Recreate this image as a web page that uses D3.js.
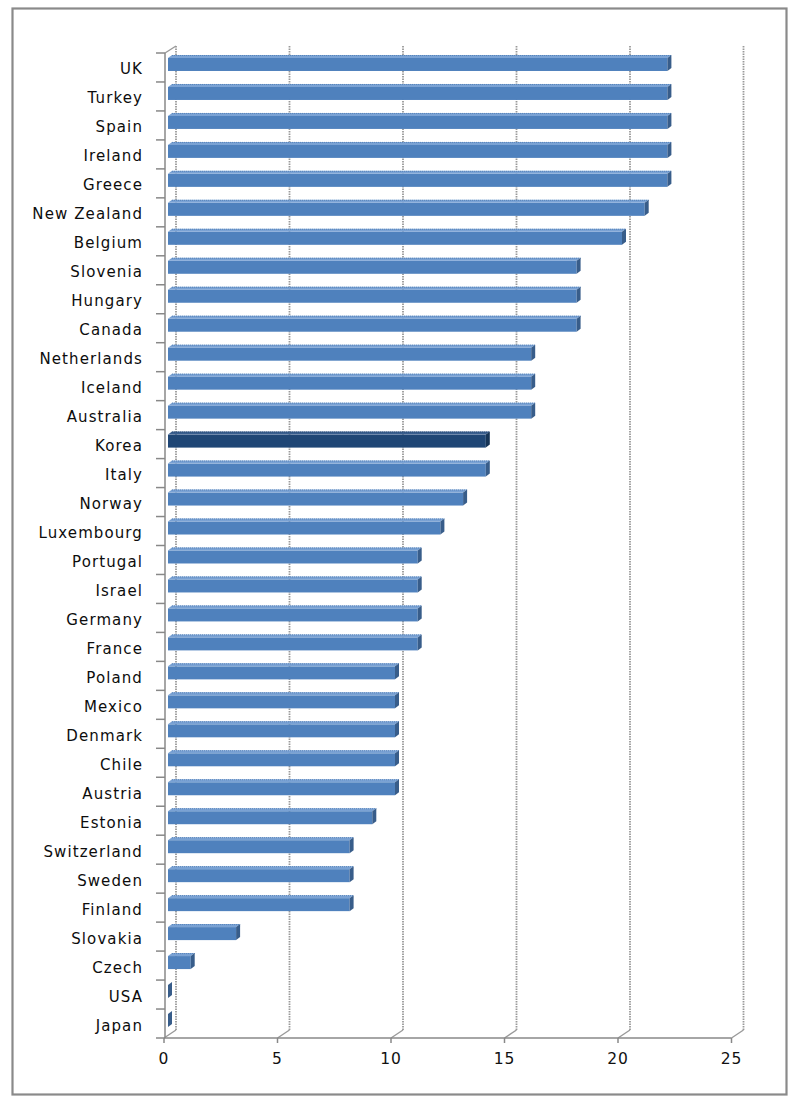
<!DOCTYPE html>
<html><head><meta charset="utf-8">
<script src="https://cdn.jsdelivr.net/npm/d3@7"></script>
<style>body{margin:0;background:#fff;} text{font-family:"DejaVu Sans",Verdana,sans-serif;}</style>
</head><body>
<svg id="c" width="801" height="1106"></svg>
<script>
const categories = ["UK","Turkey","Spain","Ireland","Greece","New Zealand","Belgium","Slovenia","Hungary","Canada","Netherlands","Iceland","Australia","Korea","Italy","Norway","Luxembourg","Portugal","Israel","Germany","France","Poland","Mexico","Denmark","Chile","Austria","Estonia","Switzerland","Sweden","Finland","Slovakia","Czech","USA","Japan"];
const values = [22,22,22,22,22,21,20,18,18,18,16,16,16,14,14,13,12,11,11,11,11,10,10,10,10,10,9,8,8,8,3,1,0,0];
const highlight = ["Korea"];
const xTicks = [0,5,10,15,20,25];

const svg = d3.select("#c");
svg.append("rect").attr("x",12.5).attr("y",8.5).attr("width",774).attr("height",1086)
  .attr("fill","#fff").attr("stroke","#8a8a8a").attr("stroke-width",2.2);

const x = d3.scaleLinear().domain([0,25]).range([164,731.5]);
const y = d3.scaleBand().domain(categories).range([53,1038]);
const D = {dx:12, dy:-8};
const yBottom = 1038, yTop = 53;

// back wall gridlines
const g = svg.append("g");
xTicks.forEach(t=>{
  g.append("line").attr("x1",x(t)+D.dx).attr("x2",x(t)+D.dx)
   .attr("y1",yTop+D.dy+1).attr("y2",yBottom+D.dy)
   .attr("stroke","#999").attr("stroke-width",1.8).attr("stroke-dasharray","1.5,1");
  // floor diagonals
  g.append("line").attr("x1",x(t)).attr("y1",yBottom).attr("x2",x(t)+D.dx).attr("y2",yBottom+D.dy)
   .attr("stroke","#999").attr("stroke-width",1.4);
});
// left wall top diagonal
g.append("line").attr("x1",x(0)+1).attr("y1",yTop).attr("x2",x(0)+D.dx).attr("y2",yTop+D.dy+1)
 .attr("stroke","#999").attr("stroke-width",1.4);

// axes
const ax = svg.append("g");
ax.append("line").attr("x1",x(0)+1).attr("x2",x(0)+1).attr("y1",yTop).attr("y2",yBottom)
  .attr("stroke","#888").attr("stroke-width",1.5);
ax.append("line").attr("x1",x(0)).attr("x2",x(25)).attr("y1",yBottom).attr("y2",yBottom)
  .attr("stroke","#888").attr("stroke-width",1.5);
categories.forEach(c=>{
  ax.append("line").attr("x1",x(0)-8).attr("x2",x(0)+1).attr("y1",y(c)).attr("y2",y(c))
    .attr("stroke","#888").attr("stroke-width",1.5);
});
ax.append("line").attr("x1",x(0)-8).attr("x2",x(0)+1).attr("y1",yBottom).attr("y2",yBottom)
  .attr("stroke","#888").attr("stroke-width",1.5);
xTicks.forEach(t=>{
  ax.append("line").attr("x1",x(t)).attr("x2",x(t)).attr("y1",yBottom).attr("y2",yBottom+5)
    .attr("stroke","#888").attr("stroke-width",1.5);
  ax.append("text").attr("x",x(t)).attr("y",yBottom+26).attr("text-anchor","middle")
    .attr("font-size",15.5).attr("letter-spacing",1).attr("fill","#111").text(t);
});
categories.forEach(c=>{
  ax.append("text").attr("x",143).attr("y",y(c)+y.bandwidth()/2+7).attr("text-anchor","end")
    .attr("font-size",15).attr("letter-spacing",1.1).attr("fill","#0d0d0d").text(c);
});

// bars
const bars = svg.append("g");
const h = 13, bo = {dx:4, dy:-3}, td = {dx:4, dy:-3};
categories.forEach((c,i)=>{
  const v = values[i];
  const dark = highlight.includes(c);
  const cFront = dark ? "#1f4675" : "#4f81bd";
  const cTop = dark ? "#3a5f8f" : "#7aa2d4";
  const cSide = dark ? "#163456" : "#385d8a";
  const cy = y(c)+y.bandwidth()/2 + bo.dy;
  const xL = x(0)+bo.dx, xR = x(v)+bo.dx;
  const yT = cy - h/2, yB = cy + h/2;
  bars.append("rect").attr("x",xL).attr("y",yT).attr("width",Math.max(0,xR-xL)).attr("height",h).attr("fill",cFront);
  bars.append("path").attr("d",`M${xL},${yT}L${xR},${yT}L${xR+td.dx},${yT+td.dy}L${xL+td.dx},${yT+td.dy}Z`)
    .attr("fill",cTop);
  bars.append("line").attr("x1",xL+td.dx).attr("x2",xR+td.dx).attr("y1",yT+td.dy+0.5).attr("y2",yT+td.dy+0.5)
    .attr("stroke",dark?"#2a4d78":"#5a86bb").attr("stroke-width",1).attr("stroke-dasharray","1,1");
  bars.append("path").attr("d",`M${xR},${yT}L${xR+td.dx},${yT+td.dy}L${xR+td.dx},${yB+td.dy}L${xR},${yB}Z`)
    .attr("fill",cSide);
});
</script>
</body></html>
